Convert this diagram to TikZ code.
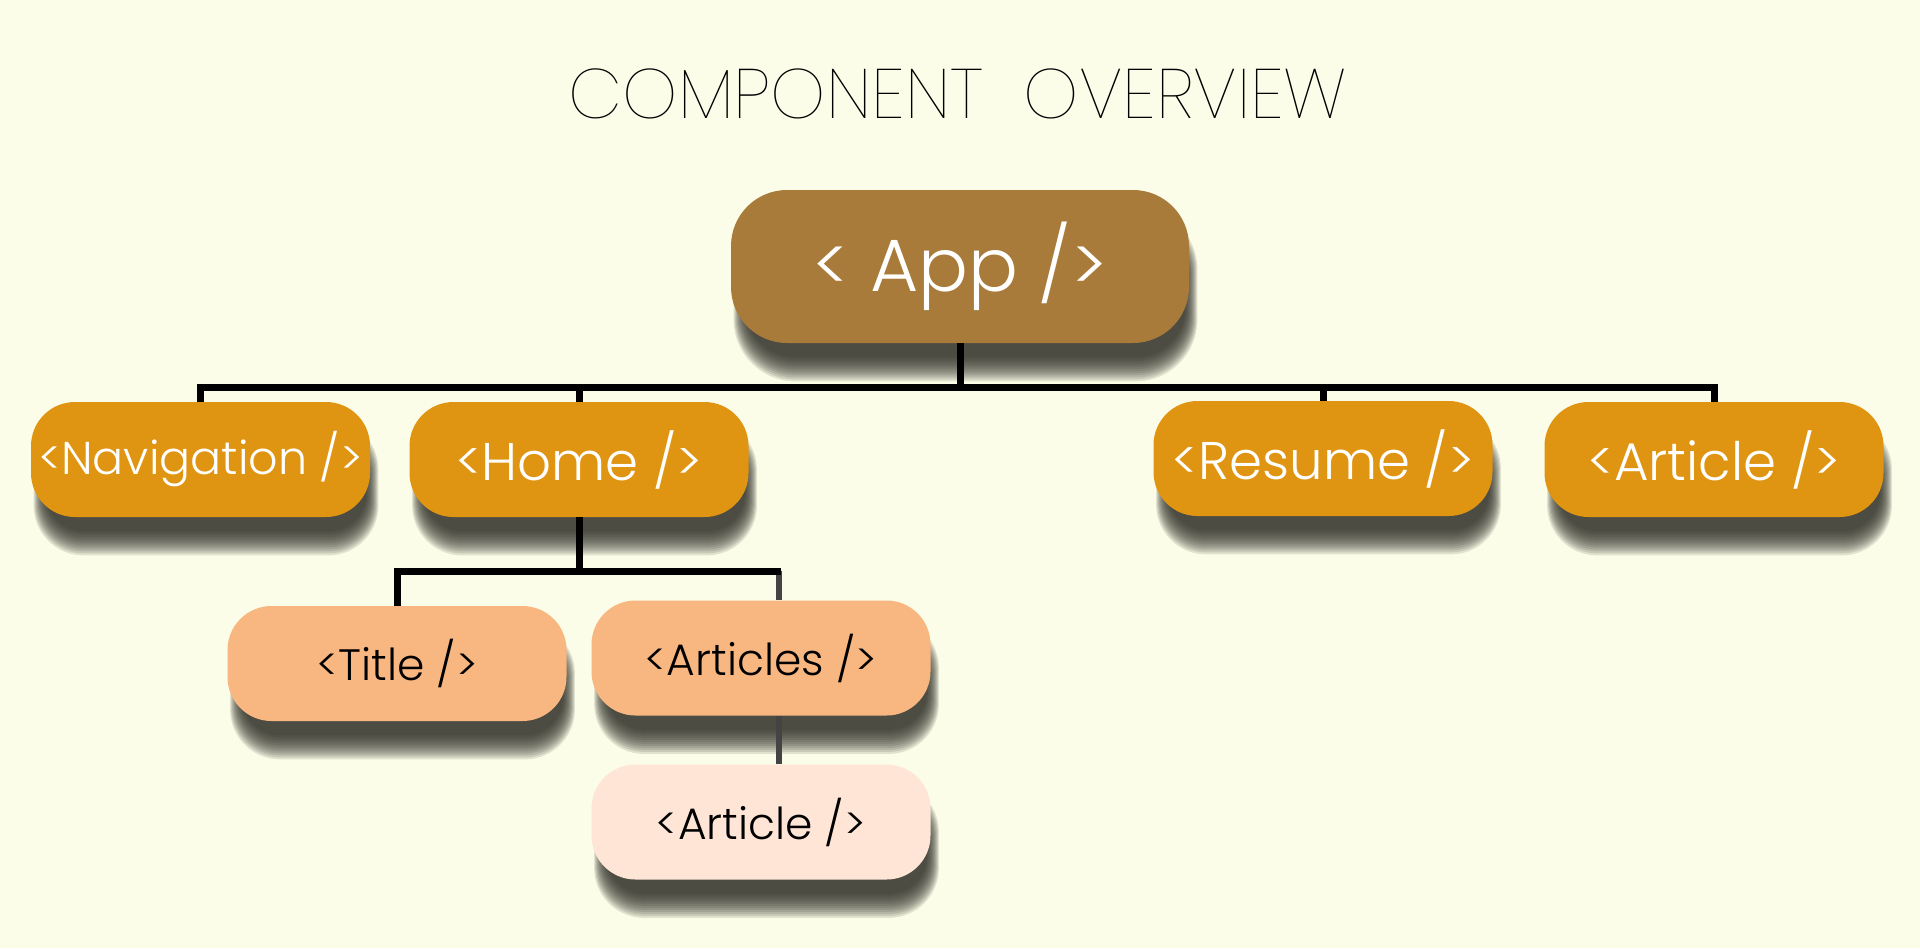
\documentclass[tikz,border=0pt]{standalone}
\usepackage{fontspec}
\usetikzlibrary{backgrounds}
\IfFontExistsTF{Poppins Light}{\newfontfamily\boxfont{Poppins Light}}{\newfontfamily\boxfont{Poppins}}
\IfFontExistsTF{Poppins Thin}{\newfontfamily\titlefont{Poppins Thin}}{\IfFontExistsTF{Poppins ExtraLight}{\newfontfamily\titlefont{Poppins ExtraLight}}{\newfontfamily\titlefont{Poppins}}}
\definecolor{bgc}{HTML}{FBFDE8}
\definecolor{appc}{HTML}{A97B3A}
\definecolor{orng}{HTML}{E09512}
\definecolor{peach}{HTML}{F8B681}
\definecolor{pale}{HTML}{FEE5D5}
\definecolor{shad}{HTML}{2E2E26}
\definecolor{gline}{HTML}{444444}
\newcommand\dropshade[2]{%
  \foreach \e in {-12,-10,...,12}{%
    \pgfmathsetmacro\rr{#2+0.25*\e}%
    \pgfmathsetmacro\ax{9-0.5*\e}%
    \pgfmathsetmacro\ay{30-\e}%
    \pgfmathsetmacro\bx{2+0.5*\e}%
    \pgfmathsetmacro\by{26+\e}%
    \fill[shad, opacity=0.13, rounded corners=\rr pt]
      ([shift={(\ax,\ay)}]#1.north west) rectangle ([shift={(\bx,\by)}]#1.south east);
  }}
\tikzset{
  basebox/.style={rectangle, inner sep=0pt, rounded corners=22pt,
    minimum width=169.5pt, minimum height=57.5pt},
  appbox/.style={basebox, fill=appc, text=white, rounded corners=28pt,
    minimum width=229pt, minimum height=76.5pt,
    font=\boxfont\fontsize{37}{40}\selectfont},
  obox/.style={basebox, fill=orng, text=white,
    font=\boxfont\fontsize{26.5}{30}\selectfont},
  pbox/.style={basebox, fill=peach, text=black,
    font=\boxfont\fontsize{22}{26}\selectfont},
  lbox/.style={basebox, fill=pale, text=black,
    font=\boxfont\fontsize{22}{26}\selectfont},
  conn/.style={draw=black, line width=3.5pt},
  gconn/.style={draw=gline, line width=3.2pt},
}
\begin{document}
\begin{tikzpicture}[x=0.5pt, y=-0.5pt]
\useasboundingbox (0,0) rectangle (1920,948);
\node[font=\titlefont\fontsize{35}{40}\selectfont, text=black] (head) at (958,94) {COMPONENT\ \ OVERVIEW};
\node[appbox] (app) at (960,266.5) {< App />};
\node[obox] (nav) at (200.5,459.5) {\fontsize{23}{26}\selectfont<Navigation />};
\node[obox] (home) at (579,459.5) {<Home />};
\node[obox] (resume) at (1323,458.5) {<Resume />};
\node[obox] (article) at (1714,459.5) {<Article />};
\node[pbox] (title) at (397,663.5) {<Title />};
\node[pbox] (articles) at (761,658) {<Articles />};
\node[lbox] (sub) at (761,822) {<Article />};
\begin{scope}[on background layer]
  \fill[bgc] (0,0) rectangle (1920,948);
  \dropshade{app}{28}
  \dropshade{nav}{22}
  \dropshade{home}{22}
  \dropshade{resume}{22}
  \dropshade{article}{22}
  \dropshade{title}{22}
  \dropshade{articles}{22}
  \dropshade{sub}{22}
\end{scope}
\coordinate (b1) at (960,387);
\coordinate (b2) at (579,571);
\coordinate (b2r) at (781,571);
\draw[conn] (app.south) -- (b1);
\draw[conn] (nav.north) |- (b1);
\draw[conn] (home.north) |- (b1);
\draw[conn] (resume.north) |- (b1);
\draw[conn] (article.north) |- (b1);
\draw[conn] (home.south) -- (b2);
\draw[gconn] ([xshift=9pt]articles.north) -- ([xshift=9pt]articles.north |- b2r);
\draw[gconn] ([xshift=9pt]articles.south) -- ([xshift=9pt]sub.north);
\draw[conn] (title.north) |- (b2) -- (b2r);
\end{tikzpicture}
\end{document}
